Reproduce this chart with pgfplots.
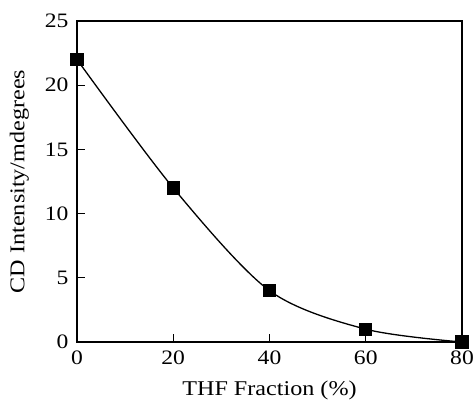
\documentclass[border=0pt]{standalone}
\usepackage{fontspec}
\setmainfont{Liberation Serif}[FakeStretch=1.15]
\usepackage{pgfplots}
\pgfplotsset{compat=1.18}
\begin{document}
\begin{tikzpicture}
\useasboundingbox (-77pt,-58pt) rectangle (396pt,342pt);
\begin{axis}[
  at={(0,0)}, anchor=south west,
  scale only axis, width=385pt, height=321pt,
  xmin=0, xmax=80, ymin=0, ymax=25,
  xtick={0,20,40,60,80}, ytick={0,5,10,15,20,25},
  xtick pos=bottom, ytick pos=left, tick align=inside,
  major tick length=8pt,
  axis line style={line width=1.3pt},
  every tick/.style={line width=1.1pt, black},
  /pgf/number format/assume math mode=true,
  tick label style={font=\fontsize{20.5}{22}\selectfont},
  label style={font=\fontsize{21}{23}\selectfont},
  xticklabel style={yshift=-5pt},
  yticklabel style={xshift=-5pt},
  xlabel={THF Fraction (\%)},
  ylabel={CD Intensity/mdegrees},
  xlabel style={yshift=-10pt},
  ylabel style={yshift=9pt},
]
\addplot[black, line width=1.3pt, smooth, mark=square*, mark size=6pt, mark options={solid}] coordinates {
(0,22) (20,12) (40,4) (60,1) (80,0)
};
\end{axis}
\end{tikzpicture}
\end{document}
